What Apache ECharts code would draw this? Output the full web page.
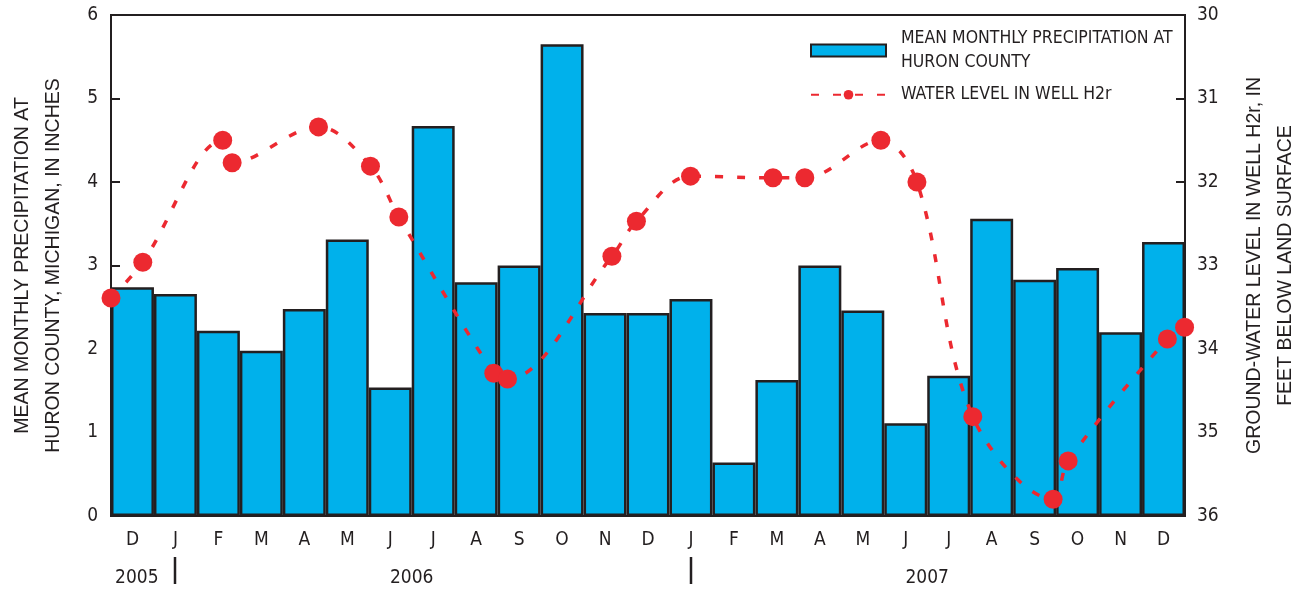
<!DOCTYPE html>
<html>
<head>
<meta charset="utf-8">
<script src="https://cdn.jsdelivr.net/npm/echarts@6/dist/echarts.min.js"></script>
<style>
  html, body { margin: 0; padding: 0; background: #fff; }
  #chart { width: 1304px; height: 590px; }
</style>
</head>
<body>
<div id="chart"></div>
<script>
// Months from December 2005 through December 2007
const months = ['D','J','F','M','A','M','J','J','A','S','O','N','D','J','F','M','A','M','J','J','A','S','O','N','D'];

// Mean monthly precipitation at Huron County, inches
const precipitation = [2.74, 2.66, 2.22, 1.98, 2.48, 3.31, 1.54, 4.67, 2.80, 3.00, 5.65, 2.43, 2.43,
                       2.60, 0.64, 1.63, 3.00, 2.46, 1.11, 1.68, 3.56, 2.83, 2.97, 2.20, 3.28];

// Measurement times, in months elapsed since the start of December 2005
const wellTimes = [0.00, 0.74, 2.60, 2.82, 4.83, 6.04, 6.70, 8.91, 9.23, 11.66, 12.23,
                   13.49, 15.41, 16.15, 17.92, 18.76, 20.06, 21.93, 22.28, 24.59, 24.99];
// Water level in well H2r, feet below land surface
const wellLevels = [33.39, 32.96, 31.50, 31.77, 31.34, 31.81, 32.42, 34.29, 34.36, 32.89, 32.47,
                    31.93, 31.95, 31.95, 31.50, 32.00, 34.81, 35.80, 35.34, 33.88, 33.74];

// Year labels along the time axis and the year boundary marks
const years = ['2005', '2006', '2007'];
const yearCenters = [0.6, 7, 19];
const yearBreaks = [1.5, 13.5];

const INK = '#231f20';
const BLUE = '#00b1eb';
const RED = '#ec2930';
const NARROW = "'Liberation Sans Narrow', 'DejaVu Sans Condensed', sans-serif";
const SANS = "'Liberation Sans', Arial, sans-serif";

const barName = 'MEAN MONTHLY PRECIPITATION AT\nHURON COUNTY';
const lineName = 'WATER LEVEL IN WELL H2r';

const chart = echarts.init(document.getElementById('chart'), null, { renderer: 'canvas' });

const GRID = { left: 111, right: 119, top: 15, bottom: 74 };

const option = {
  animation: false,
  backgroundColor: '#fff',
  grid: {
    left: GRID.left, right: GRID.right, top: GRID.top, bottom: GRID.bottom,
    show: true, borderColor: INK, borderWidth: 2, backgroundColor: 'transparent'
  },
  legend: {
    orient: 'vertical',
    left: 810, top: 27,
    padding: 0,
    itemWidth: 75, itemHeight: 12, itemGap: 9,
    textStyle: { fontFamily: NARROW, fontSize: 17.5, color: INK, lineHeight: 23.5, padding: [0, 0, 0, 10] },
    data: [
      { name: barName, icon: 'rect' },
      { name: lineName }
    ]
  },
  xAxis: [
    {
      type: 'category',
      data: months,
      boundaryGap: true,
      axisLine: { lineStyle: { color: INK, width: 2 } },
      axisTick: { show: false },
      axisLabel: { fontFamily: NARROW, fontSize: 19, color: INK, margin: 15 },
      splitLine: { show: false }
    },
    {
      type: 'value',
      min: 0, max: 25,
      show: false
    }
  ],
  yAxis: [
    {
      type: 'value',
      min: 0, max: 6, interval: 1,
      axisLine: { show: true, lineStyle: { color: INK, width: 2 } },
      axisTick: { show: true, inside: true, length: 9, lineStyle: { color: INK, width: 2 } },
      axisLabel: { fontFamily: NARROW, fontSize: 19, color: INK, margin: 13 },
      splitLine: { show: false }
    },
    {
      type: 'value',
      position: 'right',
      inverse: true,
      min: 30, max: 36, interval: 1,
      axisLine: { show: true, lineStyle: { color: INK, width: 2 } },
      axisTick: { show: true, inside: true, length: 9, lineStyle: { color: INK, width: 2 } },
      axisLabel: { fontFamily: NARROW, fontSize: 19, color: INK, margin: 12 },
      splitLine: { show: false }
    }
  ],
  series: [
    {
      name: barName,
      type: 'bar',
      xAxisIndex: 0, yAxisIndex: 0,
      barCategoryGap: '0%',
      barWidth: '100%',
      data: precipitation,
      itemStyle: { color: BLUE, borderColor: INK, borderWidth: 2.5 },
      z: 2
    },
    {
      name: lineName,
      type: 'line',
      xAxisIndex: 1, yAxisIndex: 1,
      data: wellTimes.map((t, i) => [t, wellLevels[i]]),
      smooth: 0.35,
      symbol: 'circle',
      symbolSize: 19,
      clip: false,
      lineStyle: { color: RED, width: 3.5, type: [8, 14] },
      itemStyle: { color: RED },
      z: 5
    }
  ]
};

chart.setOption(option);

// Year labels, year boundary marks and the two axis titles
function drawAnnotations() {
  const elements = [];
  const baseY = chart.convertToPixel({ yAxisIndex: 0 }, 0);
  years.forEach((label, i) => {
    const x = chart.convertToPixel({ xAxisIndex: 1 }, yearCenters[i]);
    elements.push({
      type: 'text', x: x, y: baseY + 62,
      style: { text: label, fontFamily: NARROW, fontSize: 19, fill: INK, align: 'center', verticalAlign: 'middle' }
    });
  });
  yearBreaks.forEach((t) => {
    const x = Math.round(chart.convertToPixel({ xAxisIndex: 1 }, t));
    elements.push({
      type: 'line',
      shape: { x1: x, y1: baseY + 41, x2: x, y2: baseY + 68 },
      style: { stroke: INK, lineWidth: 2.5 }
    });
  });
  const midY = (chart.convertToPixel({ yAxisIndex: 0 }, 0) + chart.convertToPixel({ yAxisIndex: 0 }, 6)) / 2;
  const leftTitle = ['MEAN MONTHLY PRECIPITATION AT', 'HURON COUNTY, MICHIGAN, IN INCHES'];
  const rightTitle = ['GROUND-WATER LEVEL IN WELL H2r, IN', 'FEET BELOW LAND SURFACE'];
  [[leftTitle, [23, 54]], [rightTitle, [1255, 1286]]].forEach(([lines, xs]) => {
    lines.forEach((t, i) => {
      elements.push({
        type: 'text', x: xs[i], y: midY, rotation: Math.PI / 2,
        style: { text: t, fontFamily: SANS, fontSize: 19.5, fill: INK, align: 'center', verticalAlign: 'middle' }
      });
    });
  });
  chart.setOption({ graphic: { elements: elements } });
}
drawAnnotations();
</script>
</body>
</html>
